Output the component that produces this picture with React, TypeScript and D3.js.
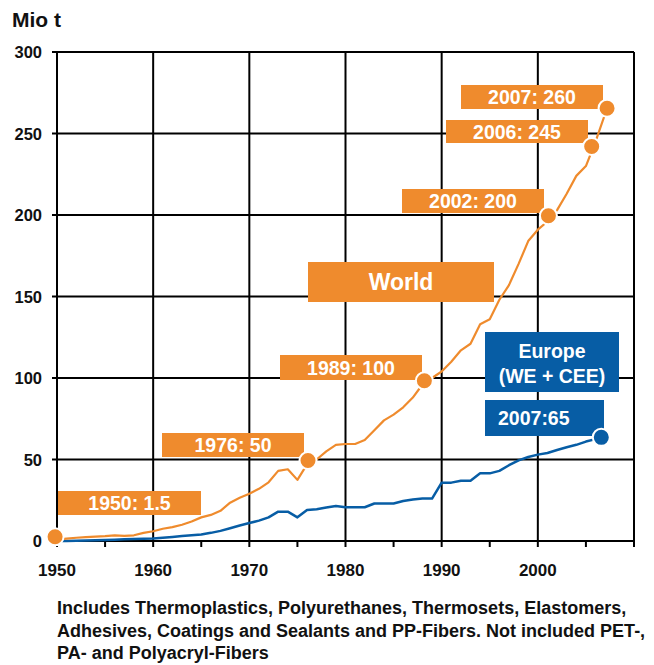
import React from "react";
import * as d3 from "d3";

const years: number[] = d3.range(1950, 2008);

// World plastics production (Mio t)
const worldValues: number[] = [
  1.0, 1.5, 2.0, 2.4, 2.7, 3.0, 3.5, 3.2, 3.5, 5.0,
  6.0, 7.5, 8.5, 10.0, 12.0, 14.5, 16.0, 18.5, 23.5, 26.5,
  29, 32, 36, 43, 44, 37.5, 47, 50, 55, 59,
  59.5, 59.5, 62, 68, 74, 77.5, 82, 88, 96, 100,
  104, 110, 117, 121, 133, 136, 148, 157, 170, 184,
  191, 196, 203, 213, 224, 230, 245, 262,
];

// Europe (WE + CEE) production (Mio t)
const europeValues: number[] = [
  0, 0, 0.2, 0.3, 0.4, 0.6, 0.8, 1.0, 1.2, 1.4,
  1.6, 2.0, 2.5, 3.0, 3.5, 4.0, 5.0, 6.2, 7.8, 9.5,
  11, 12.5, 14.5, 18, 18, 14.5, 19, 19.5, 20.5, 21.5,
  20.7, 20.7, 20.7, 23, 23, 23, 24.5, 25.5, 26, 26,
  35.8, 35.8, 37, 37, 41.5, 41.5, 43, 46.5, 49.5, 51.5,
  53, 54, 55.8, 57.5, 59, 61, 62.5, 64,
];

const yTicks: number[] = [0, 50, 100, 150, 200, 250, 300];
const xTicks: number[] = [1950, 1960, 1970, 1980, 1990, 2000, 2010];
const xLabels: number[] = [1950, 1960, 1970, 1980, 1990, 2000];
const xMinorTicks: number[] = [1955, 1965, 1975, 1985, 1995, 2005];

// highlighted points (as placed in the picture)
const worldMarkerLabels: string[] = ["1950: 1.5", "1976: 50", "1989: 100", "2002: 200", "2006: 245", "2007: 260"];
const worldMarkerX: number[] = [1949.8, 1976.1, 1988.2, 2001.1, 2005.6, 2007.2];
const worldMarkerY: number[] = [2.6, 49.4, 98.3, 199.5, 242, 265.5];
const europeMarkerLabel = "2007:65";
const europeMarkerX = 2006.6;
const europeMarkerY = 63.6;

const footnote: string[] = [
  "Includes Thermoplastics, Polyurethanes, Thermosets, Elastomers,",
  "Adhesives, Coatings and Sealants and PP-Fibers. Not included PET-,",
  "PA- and Polyacryl-Fibers",
];

// layout (pixels)
const W = 654;
const H = 665;
const ORANGE = "#EF8B2D";
const BLUE = "#075DA5";
const FONT = "'Liberation Sans', Arial, Helvetica, sans-serif";

const worldBoxes = [
  [58, 491, 201, 515],
  [162, 433, 304, 457],
  [280, 355, 422, 380],
  [402, 189, 544, 213],
  [446, 120, 588, 143],
  [461, 85, 603, 109],
];

export default function App() {
  const x = d3.scaleLinear().domain([1950, 2010]).range([57, 634]);
  const y = d3.scaleLinear().domain([0, 300]).range([541, 52]);

  const worldPts: [number, number][] = years.map((yr, i) => [yr, worldValues[i]]);
  worldPts[worldPts.length - 1] = [worldMarkerX[5], worldMarkerY[5]];
  const europePts: [number, number][] = years.map((yr, i) => [yr, europeValues[i]]);
  europePts[europePts.length - 1] = [europeMarkerX, europeMarkerY];

  const line = d3
    .line<[number, number]>()
    .x((d) => x(d[0]))
    .y((d) => y(d[1]));

  return (
    <svg
      width={W}
      height={H}
      style={{ position: "absolute", left: 0, top: 0, background: "#fff" }}
      fontFamily={FONT}
    >
      <rect x={0} y={0} width={W} height={H} fill="#fff" />
      <text x={12} y={27} fontSize={21} fontWeight="bold" fill="#111">
        Mio t
      </text>

      {/* grid */}
      {yTicks.map((t) => (
        <line key={"h" + t} x1={52} x2={x(2010)} y1={y(t)} y2={y(t)} stroke="#000" strokeWidth={2} />
      ))}
      {xTicks.map((t) => (
        <line key={"v" + t} x1={x(t)} x2={x(t)} y1={y(300)} y2={y(0) + 6} stroke="#000" strokeWidth={2} />
      ))}
      {xMinorTicks.map((t) => (
        <line key={"m" + t} x1={x(t)} x2={x(t)} y1={y(0)} y2={y(0) + 6} stroke="#000" strokeWidth={2} />
      ))}

      {/* axis labels */}
      {yTicks.map((t) => (
        <text key={"yl" + t} x={42} y={y(t) + 6} fontSize={16.5} fontWeight="bold" textAnchor="end" fill="#111">
          {t}
        </text>
      ))}
      {xLabels.map((t) => (
        <text key={"xl" + t} x={x(t)} y={576} fontSize={17} fontWeight="bold" textAnchor="middle" fill="#111">
          {t}
        </text>
      ))}

      {/* boxes */}
      {worldBoxes.map((b, i) => (
        <g key={"wb" + i}>
          <rect x={b[0]} y={b[1]} width={b[2] - b[0]} height={b[3] - b[1]} fill={ORANGE} />
          <text
            x={(b[0] + b[2]) / 2}
            y={(b[1] + b[3]) / 2 + 7}
            fontSize={19.5}
            fontWeight="bold"
            textAnchor="middle"
            fill="#fff"
          >
            {worldMarkerLabels[i]}
          </text>
        </g>
      ))}
      <rect x={308} y={262} width={186} height={40} fill={ORANGE} />
      <text x={401} y={290} fontSize={23} fontWeight="bold" textAnchor="middle" fill="#fff">
        World
      </text>

      <rect x={485} y={332} width={134} height={60} fill={BLUE} />
      <text x={552} y={358} fontSize={19.5} fontWeight="bold" textAnchor="middle" fill="#fff">
        Europe
      </text>
      <text x={552} y={383} fontSize={19.5} fontWeight="bold" textAnchor="middle" fill="#fff">
        (WE + CEE)
      </text>
      <rect x={485} y={400} width={119} height={36} fill={BLUE} />
      <text x={498} y={425} fontSize={19.5} fontWeight="bold" fill="#fff">
        {europeMarkerLabel}
      </text>

      {/* lines */}
      <path d={line(europePts) || ""} fill="none" stroke={BLUE} strokeWidth={2.5} strokeLinejoin="round" />
      <path d={line(worldPts) || ""} fill="none" stroke={ORANGE} strokeWidth={2.2} strokeLinejoin="round" />

      {/* markers */}
      {worldMarkerX.map((mx, i) => (
        <circle key={"wm" + i} cx={x(mx)} cy={y(worldMarkerY[i])} r={8.5} fill={ORANGE} stroke="#fff" strokeWidth={2} />
      ))}
      <circle cx={x(europeMarkerX)} cy={y(europeMarkerY)} r={8.5} fill={BLUE} stroke="#fff" strokeWidth={2} />

      {/* footnote */}
      {footnote.map((t, i) => (
        <text key={"fn" + i} x={57} y={614 + i * 22.5} fontSize={18} fontWeight="bold" fill="#111">
          {t}
        </text>
      ))}
    </svg>
  );
}
